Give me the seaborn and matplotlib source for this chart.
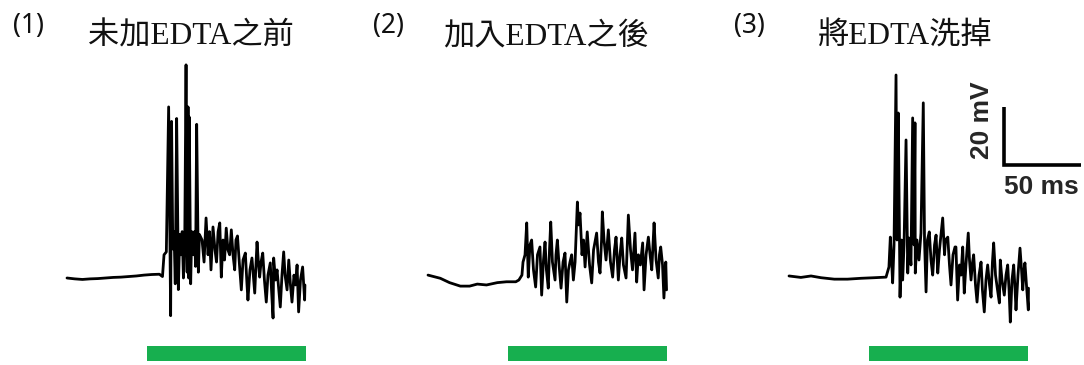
import matplotlib
matplotlib.use("Agg")
import matplotlib.pyplot as plt
import seaborn as sns
import pandas as pd

sns.set_theme(style="white")
plt.rcParams["font.family"] = ["Noto Sans CJK TC", "DejaVu Sans"]

# Panel labels and titles
panel_labels = ["(1)", "(2)", "(3)"]
panel_titles = ["未加EDTA之前", "加入EDTA之後", "將EDTA洗掉"]

# Stimulus window (ms)
stim_on = 52.0
stim_off = 155.0

# Membrane potential recordings: time (ms) and voltage (mV)
t_before = [0, 5, 10, 15, 20, 25, 30, 35, 40, 45, 50, 55, 60, 62,
            63, 64.5, 66, 66.8, 67.3, 67.9, 68.7, 69.5, 70.3, 71.2, 72.0, 72.3,
            73.2, 74, 74.8, 75.6, 76.5, 77.3, 78, 78.6, 79.0, 79.4, 80.3, 81, 82,
            82.8, 83.5, 84.2, 85.3, 86, 87.7, 89, 90.3, 91.6, 92.5, 93.5, 94.8,
            96.1, 97.1, 98.1, 99.2, 100.2, 101.3, 102.3, 103.4, 104.5, 105.6,
            106.7, 107.8, 108.9, 109.7, 110.7, 112, 113.2, 114.3, 115.8, 116.9,
            117.5, 118.8, 120.1, 121.9, 122.7, 123.4, 124.4, 125.1, 126, 127.1,
            128.2, 129.4, 130.5, 132, 132.8, 133.8, 134.2, 135.4, 136.4, 138.5,
            139.6, 140.7, 141.6, 142.9, 144, 145.1, 146.1, 147.4, 148.4, 149.4,
            150.4, 151.6, 153, 154.3, 154.5]
v_before = [-60, -60.3, -60.5, -60.3, -60.2, -60, -59.8, -59.7, -59.5, -59.3, -59, -58.8, -58.7, -59.5,
            -52, -51, -1, -45, -73, -6, -50, -44, -62, -5, -45, -64,
            -45, -52, -44, -60, -44, 13.5, -58, -1, -60, -4.5, -62, -44, -52,
            -44, -56, -7, -58, -45, -46.9, -54.5, -39.3, -52, -44, -57.2, -42.4,
            -50.3, -54.5, -44.1, -41, -59.7, -46.9, -53.8, -42.8, -50.3, -52,
            -43.4, -52, -57.2, -46.9, -45.5, -55.5, -64.1, -53.8, -51.4, -62.4,
            -67.6, -57.2, -53.1, -65.2, -55.5, -47.6, -55.5, -59.7, -54.5, -51.4,
            -60.7, -68.3, -59, -54.8, -64.1, -73.8, -53.1, -60.7, -57.2, -70,
            -59, -51, -59, -64.1, -53.8, -62.4, -68.3, -59, -62.4, -55.5,
            -71.7, -60.7, -56.2, -67.6, -62.4]

t_edta = [0, 8, 14, 21, 27, 32, 38, 45, 51, 57, 59, 61,
          61.7, 63, 64.1, 65.1, 66.2, 67.3, 68.5, 69.9, 71.1, 72.7, 73.8, 75,
          76, 76.9, 78.1, 78.9, 79.7, 80.8, 82.5, 83.1, 84, 85.1, 86.4, 87.7,
          88.96, 90.1, 91.2, 92.2, 93.3, 94.4, 95.5, 97, 97.7, 98.7, 100, 101,
          102, 103.4, 104.9, 106.3, 107.5, 109.5, 110.7, 111.7, 112.7, 113.2,
          114.3, 115.6, 117.1, 118.5, 119.9, 121.1, 122.1, 123.6, 124.7, 125.8,
          126.9, 128.6, 129.4, 130.1, 131.5, 132.8, 134.4, 135.5, 136.6, 137.9,
          139.4, 140.3, 141.6, 143.1, 144.2, 145.3, 146.1, 146.8, 148.1, 149.5,
          150.3, 151.1, 152.3, 153.2, 154.4, 154.9]
v_edta = [-59, -60.1, -61.6, -62.8, -62.8, -62.1, -62.4, -61.6, -61.3, -61.3, -60.7, -59,
          -54.5, -52, -41, -59.7, -48.6, -46.9, -57.2, -63.1, -52, -49.3, -65.9, -53.8,
          -47.6, -57.2, -63.5, -50.3, -40.7, -54.5, -60.7, -52, -46.9, -55.5, -63.5, -54.5,
          -51.4, -68.3, -57.2, -54.5, -52, -60.7, -54.5, -33.8, -41.7, -37.6, -52, -46.9,
          -56.2, -44.1, -55.5, -61.7, -50.3, -44.5, -54.5, -58.3, -46.9, -37.2,
          -46.9, -53.8, -43.4, -54.5, -59.7, -50.3, -45.9, -60.7, -52, -46.2,
          -55.5, -60, -48.6, -38.3, -50.3, -57.2, -44.5, -61.4, -52, -55.5,
          -47.9, -64.1, -52, -45.9, -52, -57.2, -48.6, -41, -53.8, -60,
          -52, -49.3, -55.5, -66.9, -54.5, -64.1]

t_wash = [0, 7.7, 14.3, 20.8, 29.4, 38, 46.8, 55.4, 63,
          64.9, 65.8, 66.6, 67.3, 68.2, 69.5, 70.1, 70.97, 72.1, 73.1, 73.8,
          74.7, 76, 77.1, 77.9, 79.2, 80.3, 81.2, 81.8, 82, 83.1, 84.4, 85.7,
          87.2, 88, 89, 89.9, 91.1, 92.2, 93.3, 94.5, 95.5, 96.6, 97.7, 99.8,
          101, 101.6, 103.1, 104.2, 105.2, 106.5, 107.8, 108.4, 109.5, 110.7,
          111.7, 112.8, 113.8, 114.9, 116.4, 117.2, 118.2, 119.2, 119.9, 121.1,
          122.1, 123.4, 124.7, 125.6, 126.8, 127.9, 129, 130.2, 131.2, 132.1,
          132.9, 134.1, 135.4, 136.6, 137.2, 138.3, 139.8, 140.9, 142, 142.9,
          143.7, 144.8, 145.9, 146.8, 147.4, 148.7, 150, 151, 151.8, 152.6,
          153.2, 154.2, 155.4, 155.5]
v_wash = [-59.3, -59.8, -59.3, -59.9, -60.4, -60.4, -60.1, -59.9, -59.7,
          -56.2, -45.9, -53.8, -61.7, -48.6, 10, -46.9, -3.1, -66.6, -46.9, -60.7,
          -48.6, -12.4, -58.3, -46.2, -55.5, -4.8, -48.6, -6.5, -58.3, -46.9, -53.8, -44.5,
          0.4, -46.9, -64.8, -46.9, -44.1, -53.8, -59, -48.6, -45.2, -58.3, -50.3, -39.3,
          -52, -46.9, -45.9, -55.5, -62.4, -52, -49.3, -49.3, -67.6, -55.5,
          -59, -49.3, -65.2, -55.5, -44.5, -53.8, -60.7, -54.5, -52, -62.4,
          -68.3, -59, -54.5, -64.1, -71.7, -60.7, -55.5, -62.4, -66.6, -54.5,
          -47.9, -59, -64.1, -68.6, -53.8, -60.7, -65.9, -59, -55.5, -64.1,
          -75.2, -60.7, -55.5, -64.1, -71, -59, -49.7, -57.2, -64.1, -57.2,
          -54.8, -62.4, -71, -63.5]

# Scale bar sizes
scale_mv = 20
scale_ms = 50

traces = [(t_before, v_before), (t_edta, v_edta), (t_wash, v_wash)]

W, H = 1084, 365
fig = plt.figure(figsize=(W / 100, H / 100), dpi=100)
fig.patch.set_facecolor("white")

px_per_ms = 1.54
px_per_mv = 2.9
title_family = ["Liberation Serif", "Noto Sans CJK TC"]
label_x = [29, 389, 749]
title_x = [191, 546, 905]

for k, (t, v) in enumerate(traces):
    left_px = 57 + 361 * k
    ax = fig.add_axes([left_px / W, 0, 260 / W, 325 / H])
    ax.set_xlim(-10 / px_per_ms, 250 / px_per_ms)
    ax.set_ylim(-60 - 87 / px_per_mv, -60 + 238 / px_per_mv)
    ax.axis("off")

    df = pd.DataFrame({"time": t, "voltage": v})
    sns.lineplot(data=df, x="time", y="voltage", ax=ax, color="black",
                 linewidth=2.0, sort=False, estimator=None)

    # stimulus bar
    ax.fill_between([stim_on, stim_off], -88.6, -83.5, color="#17AF4F", lw=0)

    fig.text(label_x[k] / W, 1 - 26 / H, panel_labels[k], fontsize=19,
             ha="center", va="center", color="#111111",
             family=["Noto Sans", "DejaVu Sans"])
    fig.text(title_x[k] / W, 1 - 37 / H, panel_titles[k], fontsize=22.5,
             ha="center", va="center", color="#111111", family=title_family)

    if k == 2:
        x_bar = 139.6
        y_bar = -21.0
        ax.plot([x_bar, x_bar, x_bar + scale_ms],
                [y_bar + scale_mv, y_bar, y_bar],
                color="black", lw=2.6, solid_joinstyle="miter",
                solid_capstyle="butt", clip_on=False)
        ax.text(x_bar - 14.3, y_bar + 15.5, f"{scale_mv} mV", rotation=90,
                ha="center", va="center", fontsize=19, fontweight="bold",
                family="Liberation Sans", clip_on=False)
        ax.text(x_bar + 24.5, y_bar - 7.6, f"{scale_ms} ms",
                ha="center", va="center", fontsize=19, fontweight="bold",
                family="Liberation Sans", clip_on=False)

fig.savefig("out.png", dpi=100, facecolor="white")
